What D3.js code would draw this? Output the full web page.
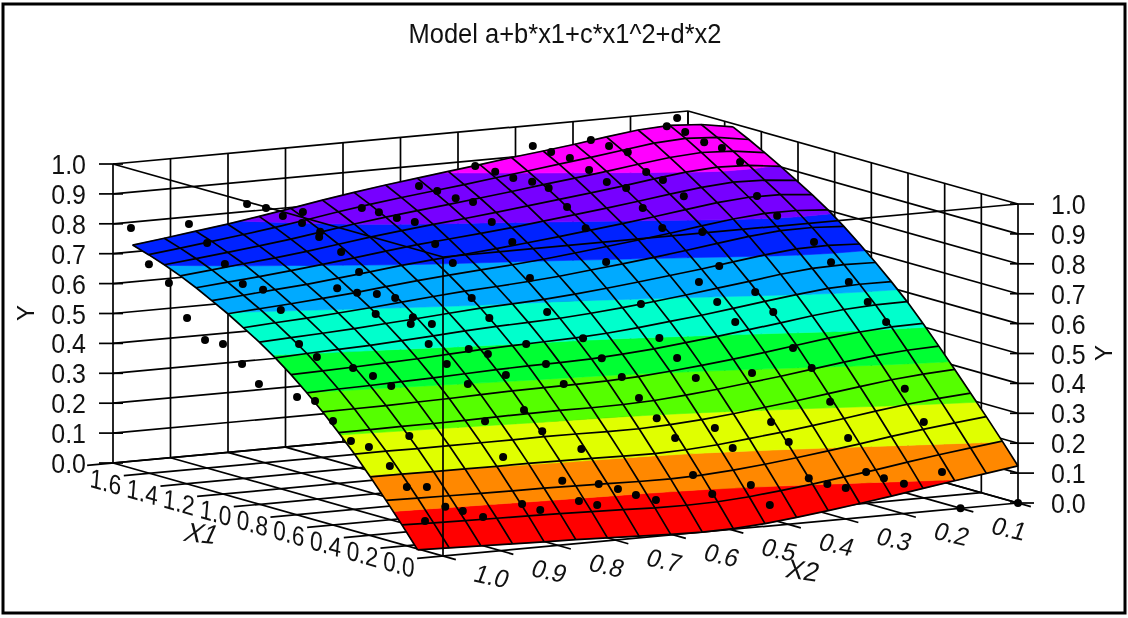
<!DOCTYPE html>
<html>
<head>
<meta charset="utf-8">
<script src="https://cdnjs.cloudflare.com/ajax/libs/d3/7.8.5/d3.min.js"></script>
<style>
html,body{margin:0;padding:0;background:#fff;overflow:hidden}
svg{display:block;filter:blur(0.45px)}
text{font-family:"Liberation Sans",Arial,sans-serif;fill:#111}
</style>
</head>
<body>
<svg id="chart" width="1128" height="618"></svg>
<script>
var titleText = "Model a+b*x1+c*x1^2+d*x2";
var x1Ticks = [0.0,0.2,0.4,0.6,0.8,1.0,1.2,1.4,1.6,1.8];
var x2Ticks = [1.0,0.9,0.8,0.7,0.6,0.5,0.4,0.3,0.2,0.1,0.0];
var yTicks = [0.0,0.1,0.2,0.3,0.4,0.5,0.6,0.7,0.8,0.9,1.0];
var bandLimits = [-1,0.112,0.21,0.318,0.428,0.521,0.62,0.72,0.812,0.925,2];
var bandColors = ["#ff0000","#ff8800","#e0ff00","#55ff00","#00ff33","#00ffcc","#00aaff","#0022ff","#7700ff","#ff00ff"];
var bandTilt = 0.04;

// fitted surface
var x1Grid = [0,.086,.173,.259,.345,.432,.518,.605,.691,.777,.864,.950,1.036,1.123,1.209,1.295,1.382,1.468,1.555];
var x2Grid = [1.044,.989,.934,.879,.824,.769,.714,.659,.604,.549,.495,.440,.385,.330,.275,.220,.165,.110,.055,.000];
var surfaceY = [
[.028,.025,.022,.019,.016,.014,.010,.006,.002,.000,.002,.009,.020,.033,.047,.062,.078,.094,.109,.124],
[.097,.094,.092,.090,.088,.086,.083,.080,.076,.075,.077,.084,.095,.107,.121,.135,.151,.166,.179,.192],
[.164,.162,.160,.158,.157,.156,.154,.152,.149,.148,.151,.158,.168,.180,.193,.207,.222,.236,.248,.259],
[.228,.227,.226,.225,.224,.224,.223,.221,.219,.218,.221,.228,.239,.250,.263,.277,.292,.305,.315,.323],
[.289,.289,.288,.288,.288,.288,.289,.288,.286,.286,.290,.297,.307,.319,.331,.345,.359,.372,.381,.387],
[.346,.346,.347,.347,.348,.350,.351,.352,.351,.352,.356,.364,.374,.386,.398,.412,.426,.438,.446,.450],
[.400,.401,.402,.404,.406,.409,.412,.413,.414,.416,.421,.429,.439,.450,.463,.477,.491,.502,.509,.511],
[.449,.452,.454,.457,.460,.464,.468,.471,.472,.475,.481,.489,.500,.511,.524,.537,.551,.562,.568,.569],
[.495,.498,.501,.505,.509,.515,.520,.524,.527,.530,.536,.545,.556,.567,.580,.594,.607,.618,.622,.621],
[.536,.541,.545,.549,.555,.561,.568,.573,.577,.581,.588,.597,.608,.620,.633,.646,.660,.670,.673,.670],
[.574,.579,.584,.590,.597,.604,.612,.619,.624,.629,.637,.647,.658,.670,.682,.696,.710,.720,.722,.717],
[.607,.614,.620,.627,.635,.644,.653,.661,.667,.674,.682,.693,.704,.716,.729,.743,.757,.766,.767,.761],
[.639,.646,.653,.661,.670,.681,.691,.700,.708,.715,.724,.735,.747,.759,.772,.787,.800,.809,.809,.801],
[.668,.676,.685,.693,.704,.715,.727,.737,.745,.754,.764,.775,.787,.799,.812,.826,.840,.848,.847,.837],
[.696,.705,.714,.724,.735,.747,.760,.772,.781,.790,.800,.812,.824,.836,.849,.863,.876,.884,.881,.870],
[.721,.731,.742,.752,.764,.778,.792,.804,.815,.825,.836,.848,.860,.872,.885,.899,.912,.919,.915,.902],
[.743,.754,.765,.777,.790,.805,.821,.834,.846,.857,.869,.881,.894,.906,.919,.933,.946,.953,.948,.933],
[.762,.774,.787,.800,.814,.830,.847,.862,.875,.887,.899,.912,.925,.938,.951,.965,.979,.985,.979,.962],
[.779,.792,.806,.820,.836,.853,.871,.887,.902,.915,.928,.941,.955,.967,.980,.995,1.008,1.014,1.007,.989]
];

// measured points
var dotX1 = [1.702,1.604,1.495,1.555,1.396,1.298,1.459,
1.200,1.312,1.096,1.183,1.555,1.004,1.132,
1.555,1.010,1.529,.796,.829,1.459,1.520,
.698,.760,1.356,1.382,.600,1.079,1.252,
.502,.682,1.036,1.132,1.459,.404,.639,
.916,1.010,1.416,.293,.596,.976,1.365,
.216,.397,.847,.873,1.330,1.511,.098,
.207,.743,.829,1.200,1.468,.138,.657,
1.088,1.408,.121,.570,.700,.916,1.373,
1.546,.095,.423,.674,.820,1.252,1.503,
.293,.579,1.140,1.442,.130,.449,.691,
.959,1.408,1.555,.103,.362,.605,.812,
1.365,1.546,.190,.527,1.252,1.494,.121,
.293,.682,1.132,1.408,1.555,.103,.173,
.605,.967,1.330,1.503,.156,.527,1.278,
1.451,.130,.449,.777,1.175,1.338,.112,
.371,.639,1.062,1.278,1.555,.302,.561,
1.555,1.183,1.511,.173,.484,.812,1.010,
1.442,.112,.311,.725,.855,1.408,.242,
.639,1.312,.121,.466,.734,1.132,.052,
.293,.648,1.019,.225,.509,.103,.432,
.890,.077,.319,.794,.052,.199,.700,
.060,.600,.035,.550,.020,.310,.200,.060,0,0];
var dotX2 = [1.000,1.000,1.000,.946,1.000,1.000,.945,
1.000,.961,1.000,.971,.845,1.000,.952,
.812,.960,.791,1.000,.986,.780,.759,
1.000,.977,.783,.773,1.000,.840,.778,
1.000,.939,.819,.785,.676,1.000,.918,
.825,.793,.660,.999,.900,.772,.645,
.994,.932,.786,.774,.625,.560,1.000,
.962,.788,.755,.631,.542,.952,.784,
.636,.529,.927,.775,.732,.658,.510,
.451,.900,.792,.707,.658,.516,.430,
.802,.706,.516,.418,.821,.716,.635,
.543,.396,.348,.798,.712,.628,.560,
.381,.319,.732,.622,.385,.303,.725,
.666,.539,.391,.297,.247,.699,.674,
.531,.408,.291,.232,.646,.521,.274,
.216,.623,.516,.408,.278,.220,.594,
.510,.420,.280,.210,.115,.500,.414,
.097,.204,.097,.510,.406,.296,.227,
.086,.496,.428,.292,.247,.066,.419,
.288,.065,.426,.314,.223,.093,.415,
.336,.219,.094,.327,.229,.331,.221,
.071,.307,.225,.072,.283,.232,.071,
.245,.070,.222,.054,.192,.098,.100,.113,.100,0];
var dotY = [.803,.699,.655,.832,.555,.498,.785,
.502,.743,.453,.700,.881,.402,.686,
.862,.641,.836,.394,.563,.823,.845,
.398,.530,.794,.805,.348,.681,.761,
.298,.500,.669,.716,.854,.295,.477,
.620,.665,.845,.250,.448,.654,.832,
.192,.321,.592,.608,.821,.898,.100,
.188,.543,.589,.771,.886,.132,.490,
.727,.870,.117,.437,.524,.644,.860,
.940,.096,.341,.507,.594,.815,.924,
.245,.453,.767,.912,.120,.360,.525,
.683,.901,.987,.100,.304,.472,.598,
.885,.963,.171,.417,.842,.949,.114,
.248,.529,.793,.923,.989,.099,.153,
.474,.711,.895,.975,.134,.423,.881,
.961,.115,.365,.604,.833,.915,.096,
.310,.516,.786,.897,1.012,.254,.461,
1.036,.858,.997,.154,.406,.651,.772,
.973,.099,.273,.599,.689,.956,.216,
.546,.925,.115,.410,.618,.848,.058,
.280,.566,.801,.223,.471,.124,.416,
.732,.105,.323,.681,.091,.224,.631,
.137,.581,.116,.520,.095,.346,.254,.113,0,0];

var x1X = d3.scaleLinear().domain([0,1.8]).range([0,-330]);
var x1Y = d3.scaleLinear().domain([0,1.8]).range([0,-93]);
var x2X = d3.scaleLinear().domain([1,0]).range([0,575]);
var x2Y = d3.scaleLinear().domain([1,0]).range([0,-53]);
var yY = d3.scaleLinear().domain([0,1]).range([0,-299]);

function project(a,b,c){
    return [443+x1X(a)+x2X(b), 556+x1Y(a)+x2Y(b)+yY(c)];
}

var svg=d3.select("#chart");
var line=d3.line();
svg.append("rect").attr("x",3).attr("y",4).attr("width",1122).attr("height",609).attr("fill","#fff").attr("stroke","#000").attr("stroke-width",3);

var grid=svg.append("g").attr("fill","none").attr("stroke","#000").attr("stroke-width",1.7);
function seg(g,a,b){g.append("path").attr("d",line([a,b]));}

// floor
x1Ticks.forEach(function(t){seg(grid,project(t,1.045,0),project(t,0,0));});
x2Ticks.forEach(function(t){seg(grid,project(-0.07,t,0),project(1.8,t,0));});
// back walls
x2Ticks.forEach(function(t){seg(grid,project(1.8,t,0),project(1.8,t,1));});
x1Ticks.forEach(function(t){seg(grid,project(t,0,0),project(t,0,1));});
yTicks.forEach(function(t){
    seg(grid,project(1.8,1,t),project(1.8,0,t));
    seg(grid,project(1.8,0,t),project(0,0,t));
    var l=project(1.8,1,t), r=project(0,0,t);
    seg(grid,[99,l[1]],[l[0]+10,l[1]]);
    seg(grid,[r[0]-8,r[1]],[1034,r[1]]);
});

// cut a cell down to one colour band
function clipBand(poly,lo,hi){
    function clip(pts,keep,cut){
        var out=[];
        pts.forEach(function(p,k){
            var q=pts[(k+1)%pts.length];
            if(keep(p))out.push(p);
            if(keep(p)!=keep(q)){
                var t=(cut-p[3])/(q[3]-p[3]);
                out.push([p[0]+t*(q[0]-p[0]),p[1]+t*(q[1]-p[1]),p[2]+t*(q[2]-p[2]),cut]);
            }
        });
        return out;
    }
    var a=clip(poly,function(p){return p[3]>=lo},lo);
    if(!a.length)return a;
    return clip(a,function(p){return p[3]<=hi},hi);
}
function vertex(i,j){
    return [x1Grid[i],x2Grid[j],surfaceY[i][j],surfaceY[i][j]-bandTilt*(x2Grid[j]-0.5)];
}
var surf=svg.append("g");
bandColors.forEach(function(c,b){
    var d="";
    for(var i=0;i<x1Grid.length-1;i++)for(var j=0;j<x2Grid.length-1;j++){
        var r=clipBand([vertex(i,j),vertex(i,j+1),vertex(i+1,j+1),vertex(i+1,j)],bandLimits[b],bandLimits[b+1]);
        if(r.length>2)d+=line(r.map(function(p){return project(p[0],p[1],p[2])}))+"Z";
    }
    surf.append("path").attr("d",d).attr("fill",c).attr("stroke",c).attr("stroke-width",0.6);
});
var mesh=svg.append("g").attr("fill","none").attr("stroke","#000").attr("stroke-width",1.7);
x1Grid.forEach(function(a,i){mesh.append("path").attr("d",line(x2Grid.map(function(b,j){return project(a,b,surfaceY[i][j])})));});
x2Grid.forEach(function(b,j){mesh.append("path").attr("d",line(x1Grid.map(function(a,i){return project(a,b,surfaceY[i][j])})));});

// front edges of the box go over the surface
var front=svg.append("g").attr("fill","none").attr("stroke","#000").attr("stroke-width",1.7);
seg(front,project(1.8,1,1),project(0,1,1));
seg(front,project(0,1,1),project(0,0,1));
seg(front,project(0,1,0),project(0,1,1));

svg.append("g").selectAll("circle").data(dotX1).enter().append("circle")
  .attr("cx",function(d,i){return project(d,dotX2[i],dotY[i])[0]})
  .attr("cy",function(d,i){return project(d,dotX2[i],dotY[i])[1]})
  .attr("r",4).attr("fill","#000");

function label(t,x,y,size,m){
    svg.append("text").attr("text-anchor","middle").attr("font-size",size)
      .attr("transform","translate("+x+","+y+") "+m).attr("dy","0.36em").text(t);
}
label(titleText,565,33,25.5,"scale(1,1.08)");
yTicks.forEach(function(t){
    var l=project(1.8,1,t),r=project(0,0,t);
    svg.append("text").attr("text-anchor","end").attr("font-size",25).attr("dy","0.36em").attr("transform","translate(86,"+l[1]+") scale(1,1.12)").text(t.toFixed(1));
    svg.append("text").attr("text-anchor","start").attr("font-size",25).attr("dy","0.36em").attr("transform","translate(1051,"+r[1]+") scale(1,1.12)").text(t.toFixed(1));
});
label("Y",25,313,24,"rotate(-90)");
label("Y",1103,353,24,"rotate(-90)");
x1Ticks.slice(0,9).forEach(function(t){
    var p=project(t,1,0);
    label(t.toFixed(1),p[0]-44,p[1]+8,22.5,"matrix(1,0.28,-0.1,1.2,0,0)");
});
x2Ticks.slice(0,10).forEach(function(t){
    var p=project(0,t,0);
    label(t.toFixed(1),p[0]+49,p[1]+20,24,"matrix(1,0.22,-0.38,1,0,0)");
});
label("X1",202,533,26,"matrix(1,0.1,-0.45,1,0,0)");
label("X2",803,570,26,"matrix(1,0.15,-0.3,1,0,0)");
</script>
</body>
</html>
